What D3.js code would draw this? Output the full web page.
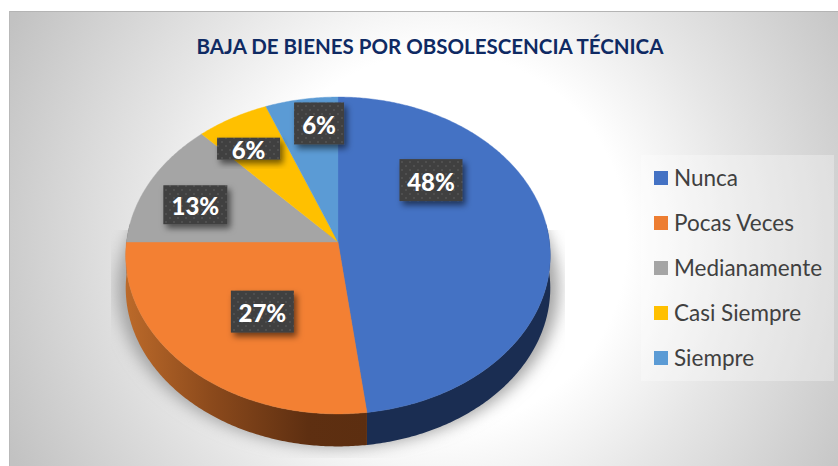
<!DOCTYPE html>
<html>
<head>
<meta charset="utf-8">
<script src="https://cdn.jsdelivr.net/npm/d3@7/dist/d3.min.js"></script>
<style>html,body{margin:0;padding:0;background:#fff}svg{display:block}</style>
</head>
<body>
<svg id="chart" width="838" height="466"></svg>
<script>
const titleText = "BAJA DE BIENES POR OBSOLESCENCIA TÉCNICA";
const categories = ["Nunca", "Pocas Veces", "Medianamente", "Casi Siempre", "Siempre"];
const percentages = [48, 27, 13, 6, 6];
const legendColors = ["#4472c4", "#ed7d31", "#a5a5a5", "#ffc000", "#5b9bd5"];
const faceColors = ["#4472c4", "#f38033", "#a5a5a5", "#ffc000", "#5b9bd5"];
const wallColors = ["#1a2d52", "url(#wallOrange)", "#5a5a5a", "#8a6c00", "#2f5d88"];

// Layout (not data)
const W = 838, H = 466;
const cx = 338, cy = 242, A = 211.5, B = 157.3, K = -0.085, DEPTH = 32.5;
const labelNudge = [[-33,-56],[14,-6],[-30,-1],[-26,-19],[3,-33]];
const labelBox = [[63,42],[63,42],[64,39],[63,22],[50,42]];

const svg = d3.select("#chart");
const defs = svg.append("defs");

const bg = defs.append("radialGradient").attr("id","bg").attr("gradientUnits","userSpaceOnUse")
  .attr("cx",440).attr("cy",240).attr("r",480);
[[0,"#fff"],[0.39,"#fff"],[0.625,"#e6e6e6"],[1,"#c2c2c2"]].forEach(s=>bg.append("stop").attr("offset",s[0]).attr("stop-color",s[1]));

const wo = defs.append("linearGradient").attr("id","wallOrange").attr("gradientUnits","userSpaceOnUse")
  .attr("x1",125).attr("x2",369).attr("y1",0).attr("y2",0);
[[0,"#bc6a2a"],[0.35,"#8c4a1c"],[0.75,"#5e2f11"],[1,"#5c2e10"]].forEach(s=>wo.append("stop").attr("offset",s[0]).attr("stop-color",s[1]));

defs.append("filter").attr("id","blurShadow").attr("x","-20%").attr("y","-20%").attr("width","140%").attr("height","140%")
  .append("feGaussianBlur").attr("stdDeviation",8);
const ls = defs.append("filter").attr("id","boxShadow").attr("x","-30%").attr("y","-30%").attr("width","170%").attr("height","170%");
ls.append("feDropShadow").attr("dx",3).attr("dy",4).attr("stdDeviation",3).attr("flood-color","#000").attr("flood-opacity",0.55);
const pat = defs.append("pattern").attr("id","dots").attr("patternUnits","userSpaceOnUse").attr("width",8).attr("height",8);
pat.append("rect").attr("width",8).attr("height",8).attr("fill","#404040");
pat.append("circle").attr("cx",2).attr("cy",2).attr("r",0.9).attr("fill","#565656");
pat.append("circle").attr("cx",6).attr("cy",6).attr("r",0.9).attr("fill","#565656");
defs.append("clipPath").attr("id","shadowClip").append("rect").attr("x",111).attr("y",230).attr("width",454).attr("height",228);

// background
svg.append("rect").attr("x",9).attr("y",11).attr("width",W-9).attr("height",H-11).attr("fill","url(#bg)");
svg.append("line").attr("x1",9).attr("x2",W).attr("y1",11.5).attr("y2",11.5).attr("stroke","#b4b4b4");
svg.append("line").attr("x1",9.5).attr("x2",9.5).attr("y1",11).attr("y2",H).attr("stroke","#b9b9b9");

// perspective projection of the pie disc
const xUnit = d3.scaleLinear().domain([-1,1]).range([-A,A]);
const yUnit = d3.scaleLinear().domain([-1,1]).range([-B,B]);
function project(theta, r){
  const u = r*Math.sin(theta), v = -r*Math.cos(theta), d = 1 + K*v;
  return [cx + xUnit(u)/d, cy + yUnit(v)/d];
}
const line = d3.line();
const pie = d3.pie().sort(null).value(d=>d);
const arcs = pie(percentages);
const samples = (a0,a1)=>{const n=Math.max(2,Math.ceil((a1-a0)/0.01));return d3.range(n+1).map(i=>a0+(a1-a0)*i/n);};

// ground shadow
const ring = samples(0,2*Math.PI).map(t=>project(t,1));
svg.append("g").attr("clip-path","url(#shadowClip)")
  .append("path").attr("d",line(ring.map(p=>[cx+(p[0]-cx)*1.04,p[1]+33]))+"Z")
  .attr("fill","#a2a2a2").attr("filter","url(#blurShadow)");

// walls
arcs.forEach((a,i)=>{
  const t0=Math.max(a.startAngle,Math.PI/2-0.12), t1=Math.min(a.endAngle,3*Math.PI/2+0.12);
  if(t1<=t0) return;
  const rim=samples(t0,t1).map(t=>project(t,1));
  const low=rim.slice().reverse().map(p=>[p[0],p[1]+DEPTH]);
  svg.append("path").attr("d",line(rim.concat(low))+"Z").attr("fill",wallColors[i]);
});

// top faces
arcs.forEach((a,i)=>{
  const rim=samples(a.startAngle,a.endAngle).map(t=>project(t,1));
  svg.append("path").attr("d",line([[cx,cy],...rim])+"Z").attr("fill",faceColors[i]).attr("stroke",faceColors[i]).attr("stroke-width",0.4);
});

// data labels
arcs.forEach((a,i)=>{
  const mid=(a.startAngle+a.endAngle)/2, p=project(mid,1);
  const lx=cx+(p[0]-cx)*0.6+labelNudge[i][0], ly=cy+(p[1]-cy)*0.6+labelNudge[i][1];
  const [w,h]=labelBox[i];
  svg.append("rect").attr("x",lx-w/2).attr("y",ly-h/2).attr("width",w).attr("height",h)
    .attr("fill","url(#dots)").attr("filter","url(#boxShadow)");
  svg.append("text").attr("x",lx).attr("y",ly+1).attr("text-anchor","middle").attr("dominant-baseline","central")
    .attr("font-family","Lato").attr("font-weight",900).attr("font-size",24).attr("fill","#fff")
    .text(percentages[i]+"%");
});

// title
svg.append("text").attr("x",430).attr("y",54).attr("text-anchor","middle")
  .attr("font-family","Lato").attr("font-weight",700).attr("font-size",20.5).attr("fill","#0f2a63").text(titleText);

// legend
svg.append("rect").attr("x",641).attr("y",155).attr("width",193).attr("height",226).attr("fill","#fff").attr("fill-opacity",0.3);
const yLegend=d3.scalePoint().domain(categories).range([178,358]);
const g=svg.append("g").selectAll("g").data(categories).join("g").attr("transform",d=>`translate(654,${yLegend(d)})`);
g.append("rect").attr("y",-7).attr("width",14).attr("height",14).attr("fill",(d,i)=>legendColors[i]);
g.append("text").attr("x",20).attr("y",7.5).attr("font-family","Lato").attr("font-size",22.5).attr("fill","#404040").text(d=>d);
</script>
</body>
</html>
